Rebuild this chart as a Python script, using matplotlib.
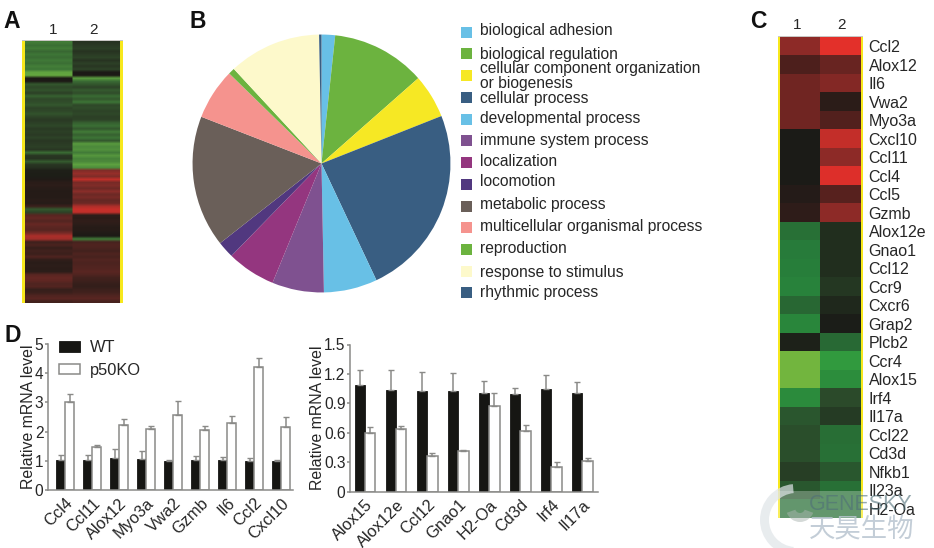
import numpy as np
import matplotlib
matplotlib.use("Agg")
import matplotlib.pyplot as plt
from matplotlib.colors import LinearSegmentedColormap
from matplotlib.patches import Rectangle, Wedge

plt.rcParams['font.family'] = ['Liberation Sans', 'DejaVu Sans']

W, H = 934, 548

# ---- Panel A ----
heat_a_col1 = [-.5,-.42,-.5,-.38,-.46,-.4,-.48,-.42,-.52,-.45,-.8,-.85,0,0,
    -.3,-.22,-.28,-.18,-.35,-.22,-.25,-.3,-.2,-.22,-.28,-.2,-.15,-.18,-.22,-.15,-.18,-.15,-.2,-.14,-.16,-.18,-.14,-.4,-.14,-.12,-.32,-.14,-.1,
    -.03,-.02,-.02,.03,.08,.1,.07,.05,.06,.05,.08,.06,.18,-.3,-.2,
    .35,.4,.32,.42,.36,.33,.5,.75,.7,.2,.28,.15,.22,.18,.3,.12,.08,.1,.08,.1,
    .35,.4,.38,.3,.32,.15,.18,.3,.35,.22]
heat_a_col2 = [-.12,-.15,-.18,-.12,-.16,-.2,-.12,-.18,-.14,-.2,0,0,-.75,-.4,
    -.3,-.2,-.32,-.25,-.4,-.3,-.45,-.22,-.25,-.2,-.22,-.18,-.2,-.35,-.42,-.3,-.5,-.35,-.45,-.3,-.72,-.6,-.65,-.5,-.7,-.55,-.6,-.78,-.62,
    .55,.65,.55,.85,.5,.55,.45,.6,.45,.5,.4,.45,.75,.88,.85,
    .1,.08,.12,.1,.06,.06,.03,0,-.5,.25,.3,.28,.22,.3,.25,.32,.28,.3,.32,.35,
    .3,.22,.2,.15,.14,.18,.22,.3,.35,.25]

# ---- Panel B ----
go_terms = ['biological adhesion', 'biological regulation',
            'cellular component organization\nor biogenesis', 'cellular process',
            'developmental process', 'immune system process', 'localization',
            'locomotion', 'metabolic process', 'multicellular organismal process',
            'reproduction', 'response to stimulus', 'rhythmic process']
go_share = [1.7, 11.8, 5.5, 24.0, 6.7, 6.5, 6.1, 2.1, 16.5, 6.4, 0.8, 11.6, 0.3]
go_colors = ['#68c0e6', '#6cb33f', '#f6e824', '#395e82', '#68c0e6', '#7f5190', '#94367f',
             '#51387f', '#6a5f59', '#f5938e', '#6cb33f', '#fdf9cb', '#395e82']
legend_box_y = [32, 53, 75, 97, 119, 140, 162, 184, 206, 227, 249, 271, 292]
legend_text_y = [31, 54, 76, 98, 119, 140, 161, 182, 204, 226, 249, 272, 292]

# ---- Panel C ----
genes_c = ['Ccl2','Alox12','Il6','Vwa2','Myo3a','Cxcl10','Ccl11','Ccl4','Ccl5','Gzmb',
           'Alox12e','Gnao1','Ccl12','Ccr9','Cxcr6','Grap2','Plcb2','Ccr4','Alox15','Irf4',
           'Il17a','Ccl22','Cd3d','Nfkb1','Il23a','H2-Oa']
heat_c_col1 = [.55,.25,.42,.42,.42,0,0,0,.05,.1,-.42,-.48,-.5,-.52,-.36,-.55,-.03,-1,-1,-.58,
               -.27,-.22,-.22,-.15,-.28,-.4]
heat_c_col2 = [.95,.38,.5,.08,.28,.8,.55,.92,.3,.55,-.08,-.08,-.08,-.12,-.06,-.01,-.38,-.68,-.6,-.2,
               -.14,-.4,-.42,-.28,-.42,-.42]

# ---- Panel D ----
genes_up = ['Ccl4','Ccl11','Alox12','Myo3a','Vwa2','Gzmb','Il6','Ccl2','Cxcl10']
up_wt = [1.03,1.03,1.10,1.07,1.00,1.02,1.02,1.00,1.00]
up_wt_err = [.17,.17,.30,.28,.03,.15,.10,.08,.03]
up_ko = [3.00,1.46,2.22,2.08,2.58,2.07,2.28,4.22,2.17]
up_ko_err = [.28,.08,.20,.12,.47,.13,.27,.30,.33]

genes_down = ['Alox15','Alox12e','Ccl12','Gnao1','H2-Oa','Cd3d','Irf4','Il17a']
down_wt = [1.09,1.04,1.03,1.03,1.01,1.00,1.05,1.01]
down_wt_err = [.15,.20,.19,.18,.12,.06,.14,.11]
down_ko = [.60,.64,.36,.41,.87,.62,.25,.31]
down_ko_err = [.06,.03,.03,.01,.14,.06,.05,.03]

cmap_c = LinearSegmentedColormap.from_list('gbr_c', [
    (0.0, '#72b53e'), (0.13, '#34a23f'), (0.25, '#277f3b'), (0.40, '#2b4a2a'),
    (0.5, '#1b1b17'), (0.62, '#4a1f1c'), (0.78, '#8f2b28'), (1.0, '#ee312b')])
cmap_a = LinearSegmentedColormap.from_list('gbr_a', [
    (0.0, '#72b53e'), (0.12, '#5c9f40'), (0.28, '#3c7336'), (0.42, '#2b3b25'),
    (0.5, '#1c1a16'), (0.65, '#4f2420'), (0.80, '#8a2e2a'), (1.0, '#e0302a')])

fig = plt.figure(figsize=(W/100, H/100), dpi=100)

def px_axes(l, t, r, b, **kw):
    return fig.add_axes([l/W, 1-b/H, (r-l)/W, (b-t)/H], **kw)

# Overlay in pixel coordinates for free text, legend swatches and watermark
ov = fig.add_axes([0, 0, 1, 1], zorder=10)
ov.set_xlim(0, W); ov.set_ylim(H, 0); ov.axis('off'); ov.patch.set_alpha(0)

TXT = '#262626'
for s, x, y in [('A', 12, 22), ('B', 198, 21), ('C', 758, 22), ('D', 13, 335)]:
    ov.text(x, y, s, fontsize=16.5, fontweight='bold', color='#111111', ha='center', va='center')

def heat(l, t, r, b, c1, c2, yellow, cmap, interp='nearest'):
    ax = px_axes(l, t, r, b)
    grid = np.column_stack([c1, c2])
    if interp != 'nearest':
        grid = np.repeat(grid, 24, axis=1)
    ax.imshow(grid, cmap=cmap, vmin=-1, vmax=1, aspect='auto', interpolation=interp)
    ax.set_xticks([]); ax.set_yticks([])
    for sp in ax.spines.values():
        sp.set_visible(False)
    ov.add_patch(Rectangle((l-yellow, t), yellow, b-t, color='#f7e81c', lw=0))
    ov.add_patch(Rectangle((r, t), yellow, b-t, color='#f7e81c', lw=0))
    ov.add_patch(Rectangle((l-yellow, t-1.5), r-l+2*yellow, 1.5, color='#c9c7c4', lw=0))
    return ax

# A
heat(25, 41, 120, 303, heat_a_col1, heat_a_col2, 3, cmap_a, interp='bilinear')
ov.text(53, 30, '1', fontsize=11, color=TXT, ha='center', va='center')
ov.text(94, 30, '2', fontsize=11, color=TXT, ha='center', va='center')

# B
axp = px_axes(191, 33, 452, 294)
axp.pie(go_share, colors=go_colors, startangle=90, counterclock=False, radius=1,
        wedgeprops=dict(linewidth=0))
axp.set_xlim(-1.012, 1.012); axp.set_ylim(-1.012, 1.012)
for term, col, by, ty in zip(go_terms, go_colors, legend_box_y, legend_text_y):
    ov.add_patch(Rectangle((461, by-5.5), 11, 11, color=col, lw=0))
    ov.text(480, ty, term, fontsize=11.25, color=TXT, va='center', ha='left', linespacing=0.95)

# C
axc = heat(780, 37, 861, 518, heat_c_col1, heat_c_col2, 2, cmap_c)
axc.yaxis.tick_right()
axc.set_yticks(range(len(genes_c)))
axc.set_yticklabels(genes_c, fontsize=11.5, color=TXT)
axc.tick_params(axis='y', length=0, pad=5.5)
ov.text(797, 25, '1', fontsize=11, color=TXT, ha='center', va='center')
ov.text(841, 25, '2', fontsize=11, color=TXT, ha='center', va='center')

# D
GR = '#8a8a88'
def bars(box, genes, wt, wte, ko, koe, ymax, ticks, ticklabels, xlim, legend=False):
    ax = px_axes(*box)
    x = np.arange(len(genes))
    w = 1/3
    ek = dict(ecolor=GR, elinewidth=1.1, capsize=2.2, capthick=1)
    ax.bar(x-w/2, wt, w, color='#161613', edgecolor='#161613', lw=0.6, label='WT',
           yerr=[np.zeros(len(wt)), wte], error_kw=ek)
    ax.bar(x+w/2, ko, w, color='white', edgecolor=GR, lw=1.1, label='p50KO',
           yerr=[np.zeros(len(ko)), koe], error_kw=ek)
    ax.set_xlim(*xlim); ax.set_ylim(0, ymax)
    ax.set_yticks(ticks); ax.set_yticklabels(ticklabels, fontsize=11.2, color=TXT)
    ax.set_xticks(x)
    ax.set_xticklabels(genes, fontsize=11.8, color=TXT, rotation=45, ha='right', rotation_mode='anchor')
    ax.set_ylabel('Relative mRNA level', fontsize=11.4, color=TXT, labelpad=-1)
    for s in ('top', 'right'):
        ax.spines[s].set_visible(False)
    for s in ('left', 'bottom'):
        ax.spines[s].set_color(GR); ax.spines[s].set_linewidth(1.1)
    ax.tick_params(axis='y', length=2.5, width=1.1, color=GR, pad=0.8)
    ax.tick_params(axis='x', length=0, pad=4)
    ax.patch.set_alpha(0)
    if legend:
        ax.legend(loc='upper left', bbox_to_anchor=(0.046, 1.025), frameon=False, fontsize=11.8,
                  labelcolor=TXT, handlelength=1.25, handleheight=0.62, labelspacing=0.45,
                  handletextpad=0.6, borderaxespad=0, borderpad=0)
    return ax

bars((48, 344, 293, 490), genes_up, up_wt, up_wt_err, up_ko, up_ko_err, 5,
     [0, 1, 2, 3, 4, 5], ['0', '1', '2', '3', '4', '5'], (-0.63, 8.44), legend=True)
bars((350, 344.5, 598, 491.5), genes_down, down_wt, down_wt_err, down_ko, down_ko_err, 1.5,
     [0, .3, .6, .9, 1.2, 1.5], ['0', '0.3', '0.6', '0.9', '1.2', '1.5'], (-0.484, 7.5))

# Watermark
ov.add_patch(Rectangle((778, 491), 85, 27, color='white', alpha=0.28, lw=0))
ov.add_patch(Wedge((796, 520), 36, 95, 265, width=9, color='#dfe4e8', alpha=0.7, lw=0))
ov.add_patch(Wedge((800, 508), 14, 20, 160, width=9, color='#aab5b0', alpha=0.5, lw=0))
ov.text(809, 505, 'GENESKY', fontsize=15.5, color='#4f6f78', alpha=0.6, va='center', ha='left')
ov.text(809, 529, '天昊生物', family=['Noto Sans CJK SC', 'DejaVu Sans'], fontsize=19,
        color='#b9c5d0', alpha=0.85, va='center', ha='left')

fig.savefig('out.png', dpi=100)
